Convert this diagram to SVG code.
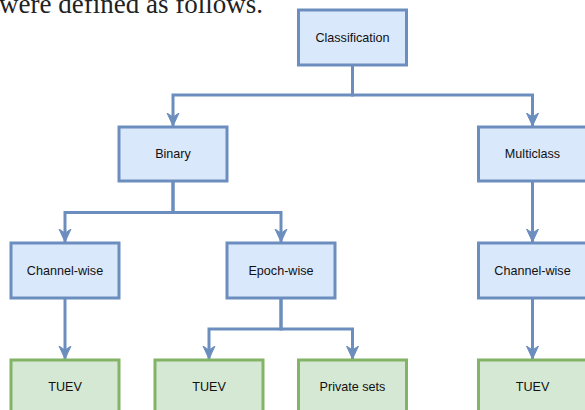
<svg xmlns="http://www.w3.org/2000/svg" width="585" height="410" viewBox="0 0 585 410">
<style>
.b{fill:#dae8fc;stroke:#6c8ebf;stroke-width:3}
.g{fill:#d5e8d4;stroke:#82b366;stroke-width:3}
.t{font-family:"Liberation Sans",Arial,sans-serif;font-size:12.6px;fill:#111;text-anchor:middle;dominant-baseline:central}
.c{fill:none;stroke:#6c8ebf;stroke-width:3;marker-end:url(#a)}
</style>
<defs>
<marker id="a" markerUnits="userSpaceOnUse" markerWidth="14" markerHeight="14" refX="13" refY="7" orient="auto" viewBox="0 0 14 14">
<path d="M0,1 L13,7 L0,13 L4,7 Z" fill="#6c8ebf" stroke="#6c8ebf" stroke-width="1"/>
</marker>
</defs>
<rect width="585" height="410" fill="#fff"/>
<text x="-1" y="12.5" font-family="Liberation Serif,serif" font-size="27" fill="#222">were defined as follows.</text>
<g id="connectors">
<path class="c" d="M352.5,65 V95 H173 V126"/>
<path class="c" d="M352.5,65 V95 H532.5 V126"/>
<path class="c" d="M173,181 V212.5 H65 V242"/>
<path class="c" d="M173,181 V212.5 H281 V242"/>
<path class="c" d="M532.5,181 V242"/>
<path class="c" d="M65,298 V359"/>
<path class="c" d="M281,298 V329 H209 V359"/>
<path class="c" d="M281,298 V329 H352.5 V359"/>
<path class="c" d="M532.5,298 V359"/>
</g>
<g id="classification"><rect class="b" x="298.5" y="10" width="108" height="55"/><text class="t" x="352.5" y="37.5">Classification</text></g>
<g id="binary"><rect class="b" x="119" y="127" width="108" height="54"/><text class="t" x="173" y="154">Binary</text></g>
<g id="multiclass"><rect class="b" x="478.5" y="127" width="108" height="54"/><text class="t" x="532.5" y="154">Multiclass</text></g>
<g id="channelwise1"><rect class="b" x="11" y="243" width="108" height="55"/><text class="t" x="65" y="270.5">Channel-wise</text></g>
<g id="epochwise"><rect class="b" x="227" y="243" width="108" height="55"/><text class="t" x="281" y="270.5">Epoch-wise</text></g>
<g id="channelwise2"><rect class="b" x="478.5" y="243" width="108" height="55"/><text class="t" x="532.5" y="270.5">Channel-wise</text></g>
<g id="tuev1"><rect class="g" x="11" y="360" width="108" height="55"/><text class="t" x="65" y="387">TUEV</text></g>
<g id="tuev2"><rect class="g" x="155" y="360" width="108" height="55"/><text class="t" x="209" y="387">TUEV</text></g>
<g id="private"><rect class="g" x="298.5" y="360" width="108" height="55"/><text class="t" x="352.5" y="387">Private sets</text></g>
<g id="tuev3"><rect class="g" x="478.5" y="360" width="108" height="55"/><text class="t" x="532.5" y="387">TUEV</text></g>
</svg>
